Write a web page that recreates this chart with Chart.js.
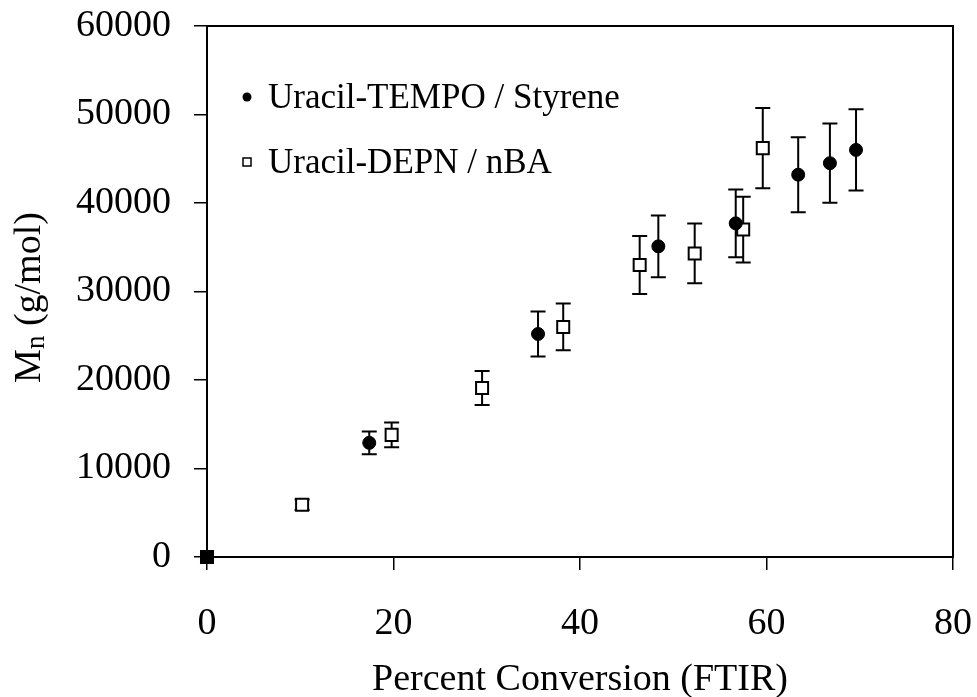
<!DOCTYPE html>
<html>
<head>
<meta charset="utf-8">
<script src="https://cdn.jsdelivr.net/npm/chart.js@4.4.1/dist/chart.umd.min.js"></script>
<style>
    html, body { margin: 0; padding: 0; background: #fff; }
    #wrap { width: 977px; height: 697px; }
</style>
</head>
<body>
<div id="wrap"><canvas id="mn-conversao"></canvas></div>
<script>
// Uracil-TEMPO / Styrene
const tempoX = [0, 17.4, 35.5, 48.4, 56.7, 63.4, 66.8, 69.6];
const tempoY = [0, 12900, 25200, 35100, 37700, 43200, 44500, 46000];
const tempoErr = [0, 1280, 2540, 3500, 3820, 4240, 4480, 4580];

// Uracil-DEPN / nBA
const depnX = [0, 10.2, 19.8, 29.5, 38.2, 46.4, 52.3, 57.5, 59.6];
const depnY = [0, 5900, 13800, 19100, 26000, 33000, 34300, 37000, 46200];
const depnErr = [0, 600, 1400, 1920, 2650, 3280, 3370, 3710, 4540];

const xTicks = [0, 20, 40, 60, 80];
const yTicks = [0, 10000, 20000, 30000, 40000, 50000, 60000];

const serif = "'Liberation Serif', 'Times New Roman', serif";

const pontos = (xs, ys) => xs.map((x, i) => ({ x: x, y: ys[i] }));

const ctx = document.getElementById('mn-conversao');

new Chart(ctx, {
    type: 'scatter',
    data: {
        datasets: [{
            label: 'Uracil-TEMPO / Styrene',
            data: pontos(tempoX, tempoY),
            err: tempoErr,
            clip: false,
            pointStyle: 'circle',
            pointRadius: 6.5,
            pointBackgroundColor: '#000',
            pointBorderColor: '#000',
            pointBorderWidth: 1
        }, {
            label: 'Uracil-DEPN / nBA',
            data: pontos(depnX, depnY),
            err: depnErr,
            clip: false,
            pointStyle: 'rect',
            pointRadius: 8.5,
            // the origin point is drawn solid
            pointBackgroundColor: c => c.dataIndex === 0 ? '#000' : '#fff',
            pointBorderColor: '#000',
            pointBorderWidth: 2
        }]
    },
    options: {
        responsive: true,
        maintainAspectRatio: false,
        animation: false,
        layout: { padding: { left: 0, right: 24, top: 26, bottom: 0 } },
        plugins: {
            legend: { display: false },
            tooltip: { enabled: false }
        },
        scales: {
            x: {
                type: 'linear',
                min: 0,
                max: 80,
                afterBuildTicks: s => { s.ticks = xTicks.map(v => ({ value: v })); },
                afterFit: s => { s.height = 140; s.paddingLeft = 0; s.paddingRight = 0; },
                grid: { drawOnChartArea: false, drawTicks: true, tickLength: 13, color: '#000', lineWidth: 1.5 },
                border: { display: true, color: '#000', width: 2 },
                ticks: { color: '#000', padding: 31, maxRotation: 0, font: { family: serif, size: 38 } }
            },
            y: {
                type: 'linear',
                min: 0,
                max: 60000,
                afterBuildTicks: s => { s.ticks = yTicks.map(v => ({ value: v })); },
                afterFit: s => { s.width = 207; s.paddingTop = 0; s.paddingBottom = 0; },
                grid: { drawOnChartArea: false, drawTicks: true, tickLength: 13, color: '#000', lineWidth: 1.5 },
                border: { display: true, color: '#000', width: 2 },
                ticks: { color: '#000', padding: 23, font: { family: serif, size: 38 }, callback: v => String(v) }
            }
        }
    },
    plugins: [{
        id: 'barrasErro',
        beforeDatasetsDraw(chart) {
            const { ctx, scales } = chart;
            ctx.save();
            ctx.strokeStyle = '#000';
            ctx.lineWidth = 2;
            chart.data.datasets.forEach(ds => {
                ds.data.forEach((p, i) => {
                    const e = ds.err[i];
                    if (!e) return;
                    const x = scales.x.getPixelForValue(p.x);
                    const y1 = scales.y.getPixelForValue(p.y + e);
                    const y2 = scales.y.getPixelForValue(p.y - e);
                    ctx.beginPath();
                    ctx.moveTo(x, y1);
                    ctx.lineTo(x, y2);
                    ctx.moveTo(x - 7.5, y1);
                    ctx.lineTo(x + 7.5, y1);
                    ctx.moveTo(x - 7.5, y2);
                    ctx.lineTo(x + 7.5, y2);
                    ctx.stroke();
                });
            });
            ctx.restore();
        }
    }, {
        id: 'moldura',
        afterDraw(chart) {
            const { ctx, chartArea: a } = chart;
            ctx.save();
            ctx.strokeStyle = '#000';
            ctx.lineWidth = 2;
            ctx.strokeRect(a.left, a.top, a.right - a.left, a.bottom - a.top);

            // axis titles
            ctx.fillStyle = '#000';
            ctx.font = '38px ' + serif;
            ctx.textAlign = 'center';
            ctx.textBaseline = 'alphabetic';
            ctx.fillText('Percent Conversion (FTIR)', (a.left + a.right) / 2, 690);

            ctx.translate(40, (a.top + a.bottom) / 2 + 6);
            ctx.rotate(-Math.PI / 2);
            const m = 'M', resto = ' (g/mol)';
            ctx.font = '38px ' + serif;
            const wM = ctx.measureText(m).width;
            const wR = ctx.measureText(resto).width;
            ctx.font = '27px ' + serif;
            const wN = ctx.measureText('n').width;
            let x0 = -(wM + wN + wR) / 2;
            ctx.textAlign = 'left';
            ctx.font = '38px ' + serif;
            ctx.fillText(m, x0, 0);
            ctx.font = '27px ' + serif;
            ctx.fillText('n', x0 + wM, 4);
            ctx.font = '38px ' + serif;
            ctx.fillText(resto, x0 + wM + wN, 0);
            ctx.restore();

            // legend
            ctx.save();
            ctx.fillStyle = '#000';
            ctx.strokeStyle = '#000';
            ctx.font = '35px ' + serif;
            ctx.textBaseline = 'alphabetic';
            ctx.beginPath();
            ctx.arc(247, 97, 4.5, 0, Math.PI * 2);
            ctx.fill();
            ctx.fillText(chart.data.datasets[0].label, 268, 108);
            ctx.lineWidth = 1.5;
            ctx.strokeRect(243, 158, 8, 8);
            ctx.fillText(chart.data.datasets[1].label, 268, 173);
            ctx.restore();
        }
    }]
});
</script>
</body>
</html>
